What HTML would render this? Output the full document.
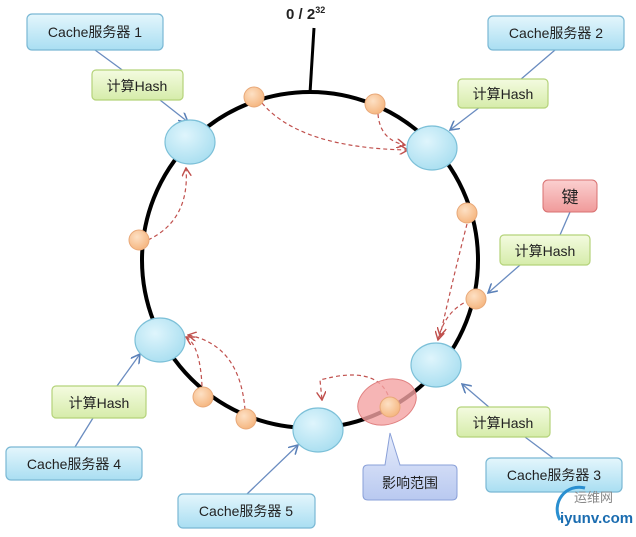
<!DOCTYPE html>
<html><head><meta charset="utf-8"><style>
body{margin:0;background:#fff;width:636px;height:532px;overflow:hidden}
svg text{font-family:"Liberation Sans","Noto Sans CJK SC",sans-serif;}
</style></head><body>
<svg width="636" height="532" viewBox="0 0 636 532" xmlns="http://www.w3.org/2000/svg">
<defs>
<linearGradient id="bl" x1="0" y1="0" x2="0" y2="1"><stop offset="0" stop-color="#e4f6fc"/><stop offset="1" stop-color="#a9def2"/></linearGradient>
<linearGradient id="gr" x1="0" y1="0" x2="0" y2="1"><stop offset="0" stop-color="#f4fbe0"/><stop offset="1" stop-color="#d6ecaa"/></linearGradient>
<linearGradient id="rd" x1="0" y1="0" x2="0" y2="1"><stop offset="0" stop-color="#fbd0d0"/><stop offset="1" stop-color="#f09a9a"/></linearGradient>
<linearGradient id="pu" x1="0" y1="0" x2="0" y2="1"><stop offset="0" stop-color="#e6ecfb"/><stop offset="1" stop-color="#b9c9f0"/></linearGradient>
<radialGradient id="nd" cx="0.4" cy="0.35" r="0.7"><stop offset="0" stop-color="#dff5fc"/><stop offset="1" stop-color="#a8def0"/></radialGradient>
<radialGradient id="or" cx="0.4" cy="0.35" r="0.7"><stop offset="0" stop-color="#fde0c4"/><stop offset="1" stop-color="#f5b47c"/></radialGradient>
<marker id="ab" markerWidth="8" markerHeight="8" refX="7" refY="4" orient="auto"><path d="M0,0 L7,4 L0,8" fill="none" stroke="#5a80b8" stroke-width="1.2"/></marker>
<marker id="ar" markerWidth="8" markerHeight="8" refX="7" refY="4" orient="auto"><path d="M0,0 L7,4 L0,8" fill="none" stroke="#c0504d" stroke-width="1.2"/></marker>
</defs>
<!-- ring -->
<circle cx="310" cy="260" r="168" fill="none" stroke="#000" stroke-width="4"/>
<line x1="310" y1="93" x2="314" y2="28" stroke="#000" stroke-width="3"/>
<text x="286" y="19" font-size="15" font-weight="bold" fill="#222">0 / 2<tspan font-size="9" dy="-6">32</tspan></text>
<!-- blue connector lines -->
<g stroke="#6a8cc0" stroke-width="1.3" fill="none">
<line x1="95" y1="50" x2="125" y2="72"/><line x1="160" y1="100" x2="188" y2="122" marker-end="url(#ab)"/>
<line x1="555" y1="50" x2="520" y2="80"/><line x1="480" y1="107" x2="450" y2="130" marker-end="url(#ab)"/>
<line x1="570" y1="212" x2="560" y2="235"/><line x1="520" y1="265" x2="488" y2="293" marker-end="url(#ab)"/>
<line x1="525" y1="437" x2="553" y2="458"/><line x1="490" y1="408" x2="462" y2="384" marker-end="url(#ab)"/>
<line x1="75" y1="447" x2="93" y2="418"/><line x1="117" y1="386" x2="140" y2="354" marker-end="url(#ab)"/>
<line x1="247" y1="494" x2="298" y2="445" marker-end="url(#ab)"/>
</g>
<!-- red dashed arrows -->
<g stroke="#c0504d" stroke-width="1.2" stroke-dasharray="4,3" fill="none">
<path d="M262,103 Q300,148 408,150" marker-end="url(#ar)"/>
<path d="M378,114 Q380,140 405,145" marker-end="url(#ar)"/>
<path d="M148,240 Q190,220 186,168" marker-end="url(#ar)"/>
<path d="M467,224 Q455,270 440,336" marker-end="url(#ar)"/>
<path d="M470,300 Q445,310 438,340" marker-end="url(#ar)"/>
<path d="M388,395 Q375,365 320,380 L322,400" marker-end="url(#ar)"/>
<path d="M202,386 Q200,345 186,337" marker-end="url(#ar)"/>
<path d="M245,410 Q240,345 188,335" marker-end="url(#ar)"/>
</g>
<!-- influence ellipse -->
<ellipse cx="387" cy="402" rx="30" ry="22" transform="rotate(-20 387 402)" fill="#f4a3a3" fill-opacity="0.8" stroke="#e08080"/>
<!-- blue nodes -->
<g fill="url(#nd)" stroke="#7cc0d8" stroke-width="1.2">
<ellipse cx="190" cy="142" rx="25" ry="22"/>
<ellipse cx="432" cy="148" rx="25" ry="22"/>
<ellipse cx="436" cy="365" rx="25" ry="22"/>
<ellipse cx="318" cy="430" rx="25" ry="22"/>
<ellipse cx="160" cy="340" rx="25" ry="22"/>
</g>
<!-- orange -->
<g fill="url(#or)" stroke="#e8a878" stroke-width="1">
<circle cx="254" cy="97" r="10"/><circle cx="375" cy="104" r="10"/>
<circle cx="467" cy="213" r="10"/><circle cx="476" cy="299" r="10"/>
<circle cx="390" cy="407" r="10"/><circle cx="203" cy="397" r="10"/>
<circle cx="246" cy="419" r="10"/><circle cx="139" cy="240" r="10"/>
</g>
<!-- boxes -->
<g stroke="#7ab8d4" stroke-width="1.2" fill="url(#bl)">
<rect x="27" y="14" width="136" height="36" rx="5"/>
<rect x="488" y="16" width="136" height="34" rx="5"/>
<rect x="486" y="458" width="136" height="34" rx="5"/>
<rect x="6" y="447" width="136" height="33" rx="5"/>
<rect x="178" y="494" width="137" height="34" rx="5"/>
</g>
<g stroke="#b5d37a" stroke-width="1.2" fill="url(#gr)">
<rect x="92" y="70" width="91" height="30" rx="4"/>
<rect x="458" y="79" width="90" height="29" rx="4"/>
<rect x="500" y="235" width="90" height="30" rx="4"/>
<rect x="52" y="386" width="94" height="32" rx="4"/>
<rect x="457" y="407" width="93" height="30" rx="4"/>
</g>
<rect x="543" y="180" width="54" height="32" rx="5" fill="url(#rd)" stroke="#d87070"/>
<path d="M368,465 L385,465 L390,433 L400,465 L452,465 Q457,465 457,470 L457,495 Q457,500 452,500 L368,500 Q363,500 363,495 L363,470 Q363,465 368,465 Z" fill="url(#pu)" stroke="#8aa0d8"/>
<g font-size="14" fill="#222" text-anchor="middle">
<text x="95" y="37">Cache服务器 1</text>
<text x="556" y="38">Cache服务器 2</text>
<text x="554" y="480">Cache服务器 3</text>
<text x="74" y="469">Cache服务器 4</text>
<text x="246" y="516">Cache服务器 5</text>
<text x="137" y="91">计算Hash</text>
<text x="503" y="99">计算Hash</text>
<text x="545" y="256">计算Hash</text>
<text x="99" y="408">计算Hash</text>
<text x="503" y="428">计算Hash</text>
<text x="410" y="488">影响范围</text>
<text x="570" y="203" font-size="17">键</text>
</g>
<!-- watermark -->
<path d="M560,520 A22,22 0 0 1 585,488" fill="none" stroke="#2a8fd0" stroke-width="3"/>
<text x="574" y="502" font-size="13" fill="#888" font-family="Liberation Sans,'Noto Sans CJK SC',sans-serif">运维网</text>
<text x="560" y="523" font-size="15" font-weight="bold" fill="#1a6cb0">iyunv.com</text>
</svg>
</body></html>
